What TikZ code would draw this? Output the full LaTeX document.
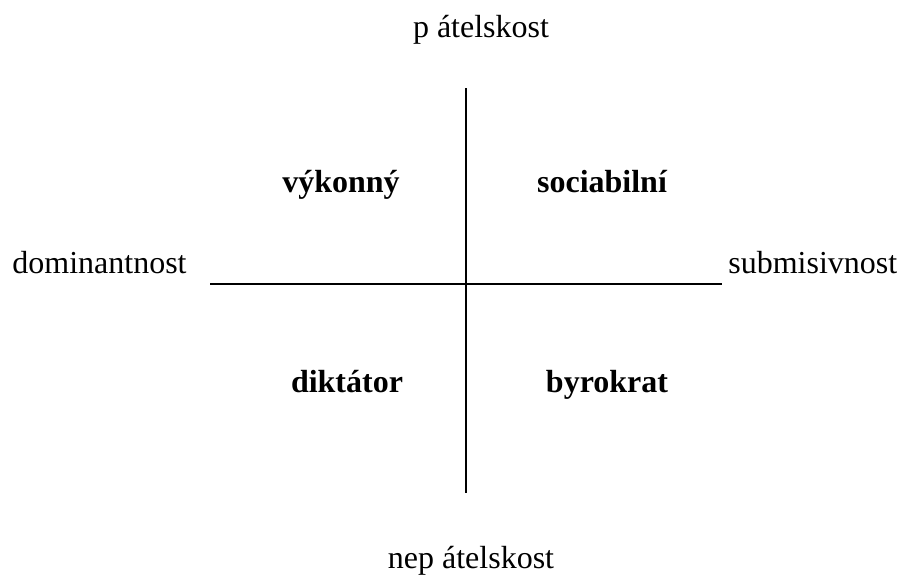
\documentclass[tikz,border=0pt]{standalone}
\usepackage{fontspec}
\setmainfont{Liberation Serif}

\begin{document}
\begin{tikzpicture}[x=0.5pt,y=-0.5pt,font=\fontsize{16}{19}\selectfont,
    axislbl/.style={anchor=base},
    quadlbl/.style={anchor=base,font=\fontsize{16}{19}\selectfont\bfseries},
    axisline/.style={line width=1pt}]
  \useasboundingbox (0,0) rectangle (901,574);
  \coordinate (vtop) at (466,88);
  \coordinate (vbot) at (466,493);
  \coordinate (hleft) at (210,284);
  \coordinate (hright) at (722,284);
  \draw[axisline] (vtop) -- (vbot);
  \draw[axisline] (hleft) -- (hright);
  \node[axislbl] (top) at (481,37) {p átelskost};
  \node[axislbl] (bottom) at (471,568) {nep átelskost};
  \node[axislbl,anchor=base west,inner sep=0pt] (left) at (12,273) {dominantnost};
  \node[axislbl,anchor=base west,inner sep=0pt] (right) at (728,273) {submisivnost};
  \node[quadlbl] (vykonny) at (341,192) {výkonný};
  \node[quadlbl] (sociabilni) at (602,192) {sociabilní};
  \node[quadlbl] (diktator) at (347,392) {diktátor};
  \node[quadlbl] (byrokrat) at (607,392) {byrokrat};
\end{tikzpicture}
\end{document}
